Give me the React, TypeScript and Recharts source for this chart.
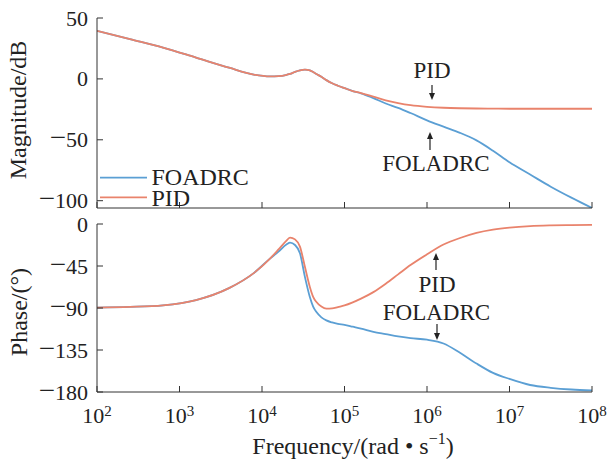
import { LineChart, Line, XAxis, YAxis, Legend } from 'recharts';

// Bode plot: FOADRC vs PID open-loop response, magnitude on top, phase below.
const freqs = [
  100, 251, 631, 1585, 3981, 7943, 12589, 15849, 19953, 21878, 25119, 28840,
  33113, 38019, 41687, 45709, 52481, 60256, 70795, 83176, 1e5, 125893, 158489,
  223872, 316228, 446684, 630957, 1e6, 1584893, 2511886, 3981072, 6309573,
  1e7, 17782794, 31622777, 56234133, 1e8,
];

const magFoadrc = [
  39.5, 32.6, 25.7, 17.5, 9.2, 3.6, 2.1, 2.3, 3.4, 4.1, 5.8, 7.0, 7.6, 7.0,
  5.6, 4.0, 1.7, -1.0, -3.6, -5.6, -7.6, -10.0, -11.8, -15.8, -20.2, -23.8,
  -28.0, -34.0, -39.2, -44.3, -50.5, -59.0, -68.5, -78.5, -88.5, -97.5, -106,
];

const magPid = [
  39.5, 32.6, 25.7, 17.5, 9.2, 3.6, 2.1, 2.3, 3.4, 4.1, 5.8, 7.0, 7.6, 7.0,
  5.6, 4.0, 1.7, -1.0, -3.6, -5.6, -7.6, -10.0, -11.6, -14.6, -17.6, -19.8,
  -21.5, -22.9, -23.7, -24.1, -24.3, -24.4, -24.5, -24.5, -24.5, -24.5, -24.5,
];

const phaseFoadrc = [
  -89.5, -88.8, -87.1, -81.5, -68.7, -52.6, -36.8, -29.5, -21.8, -20.0, -22.5,
  -31.3, -56.6, -78.2, -88.5, -94.4, -100, -103.3, -105.5, -107, -108, -110,
  -112, -115.5, -118, -120.5, -122.3, -124, -128, -138, -149.5, -159.5, -166,
  -172.5, -175.5, -177.3, -178.2,
];

const phasePid = [
  -89.5, -88.8, -87.1, -81.5, -68.7, -52.6, -36.8, -27.3, -17.5, -14.5, -16.5,
  -24.2, -45.8, -67.4, -78, -83.6, -88.5, -90.7, -90.5, -89, -87.3, -84, -80,
  -73, -64, -54, -44, -32.5, -22, -15, -9.5, -6, -3.8, -2.2, -1.5, -1.2, -1.0,
];

const seriesNames = ['FOADRC', 'PID'];
const freqTicks = [1e2, 1e3, 1e4, 1e5, 1e6, 1e7, 1e8];
const magTicks = [50, 0, -50, -100];
const phaseTicks = [0, -45, -90, -135, -180];

const magData = freqs.map((f, i) => ({ f, foadrc: magFoadrc[i], pid: magPid[i] }));
const phaseData = freqs.map((f, i) => ({ f, foadrc: phaseFoadrc[i], pid: phasePid[i] }));

const BLUE = '#5b9fd4';
const ORANGE = '#e9836c';
const AXIS = '#333';
const INK = '#222';
const FONT = '"Liberation Serif", "Times New Roman", serif';

// inward tick marks, labels drawn by hand so they sit where MATLAB puts them
function FreqTick({ x, y, payload, showLabel }: any) {
  const exp = Math.round(Math.log10(payload.value));
  return (
    <g>
      <line x1={x} x2={x} y1={y} y2={y - 6} stroke={AXIS} strokeWidth={1} />
      {showLabel && (
        <text x={x} y={y + 31} textAnchor="middle" fontSize={22} fill={INK} fontFamily={FONT}>
          <tspan>10</tspan>
          <tspan dy={-7} fontSize={15}>
            {exp}
          </tspan>
        </text>
      )}
    </g>
  );
}

// MATLAB's minus sign is long, so it gets a larger glyph than the digits
function ValueTick({ x, y, payload }: any) {
  const v = payload.value as number;
  return (
    <g>
      <line x1={x} x2={x + 6} y1={y} y2={y} stroke={AXIS} strokeWidth={1} />
      <text x={x - 9} y={y + 7.5} textAnchor="end" fontSize={22} fill={INK} fontFamily={FONT}>
        {v < 0 && <tspan fontSize={29}>{'\u2212'}</tspan>}
        <tspan>{Math.abs(v)}</tspan>
      </text>
    </g>
  );
}

function LegendBox() {
  return (
    <svg width={200} height={50} style={{ display: 'block', overflow: 'visible' }}>
      <line x1={2} x2={49} y1={11.7} y2={11.7} stroke={BLUE} strokeWidth={1.8} />
      <line x1={2} x2={49} y1={31.3} y2={31.3} stroke={ORANGE} strokeWidth={1.8} />
      <text x={53.5} y={18.5} fontSize={24} fill={INK} fontFamily={FONT}>
        {seriesNames[0]}
      </text>
      <text x={53.5} y={39.5} fontSize={24} fill={INK} fontFamily={FONT}>
        {seriesNames[1]}
      </text>
    </svg>
  );
}

function Arrow({ x, from, to }: { x: number; from: number; to: number }) {
  const dir = to > from ? 1 : -1;
  return (
    <g>
      <line x1={x} x2={x} y1={from} y2={to - dir * 5} stroke={INK} strokeWidth={1.2} />
      <polygon
        points={`${x - 3},${to - dir * 7} ${x + 3},${to - dir * 7} ${x},${to}`}
        fill={INK}
      />
    </g>
  );
}

export default function App() {
  const lineProps = {
    type: 'monotone' as const,
    dot: false,
    strokeWidth: 1.8,
    isAnimationActive: false,
  };
  const xAxisProps = {
    dataKey: 'f',
    type: 'number' as const,
    scale: 'log' as const,
    domain: [100, 1e8],
    ticks: freqTicks,
    interval: 0,
    allowDataOverflow: true,
    tickLine: false,
    tickSize: 0,
    tickMargin: 0,
    axisLine: { stroke: AXIS, strokeWidth: 1 },
  };
  const yAxisProps = {
    type: 'number' as const,
    width: 97,
    interval: 0,
    allowDataOverflow: true,
    tickLine: false,
    tickSize: 0,
    tickMargin: 0,
    axisLine: { stroke: AXIS, strokeWidth: 1 },
    tick: <ValueTick />,
  };

  return (
    <div
      style={{
        position: 'absolute',
        left: 0,
        top: 0,
        width: 609,
        height: 459,
        background: '#fff',
        fontFamily: FONT,
      }}
    >
      <div style={{ position: 'absolute', left: 0, top: 0 }}>
        <LineChart
          width={609}
          height={215}
          data={magData}
          margin={{ top: 18, right: 17, bottom: 0, left: 0 }}
        >
          <XAxis {...xAxisProps} height={7} tick={<FreqTick showLabel={false} />} />
          <YAxis {...yAxisProps} domain={[-106, 50]} ticks={magTicks} />
          <Legend
            layout="vertical"
            align="center"
            verticalAlign="middle"
            wrapperStyle={{ position: 'absolute', left: 98, top: 166, width: 200, height: 50 }}
            content={() => <LegendBox />}
          />
          <Line {...lineProps} dataKey="foadrc" name={seriesNames[0]} stroke={BLUE} />
          <Line {...lineProps} dataKey="pid" name={seriesNames[1]} stroke={ORANGE} />
        </LineChart>
      </div>

      <div style={{ position: 'absolute', left: 0, top: 200 }}>
        <LineChart
          width={609}
          height={259}
          data={phaseData}
          margin={{ top: 24, right: 17, bottom: 0, left: 0 }}
        >
          <XAxis {...xAxisProps} height={67} tick={<FreqTick showLabel />} />
          <YAxis {...yAxisProps} domain={[-180, 0]} ticks={phaseTicks} />
          <Line {...lineProps} dataKey="foadrc" name={seriesNames[0]} stroke={BLUE} />
          <Line {...lineProps} dataKey="pid" name={seriesNames[1]} stroke={ORANGE} />
        </LineChart>
      </div>

      {/* axis titles and the curve call-outs */}
      <svg
        width={609}
        height={459}
        style={{ position: 'absolute', left: 0, top: 0, pointerEvents: 'none' }}
        fontFamily={FONT}
        fill={INK}
      >
        <text x={26} y={110} fontSize={24} textAnchor="middle" transform="rotate(-90 26 110)">
          Magnitude/dB
        </text>
        <text x={27} y={312} fontSize={24} textAnchor="middle" transform="rotate(-90 27 312)">
          Phase/(°)
        </text>
        <text x={353} y={454} fontSize={24} textAnchor="middle">
          <tspan>Frequency/(rad</tspan>
          <tspan> • </tspan>
          <tspan>s</tspan>
          <tspan dy={-10} fontSize={16}>
            −1
          </tspan>
          <tspan dy={10}>)</tspan>
        </text>

        <text x={432} y={78} fontSize={23} textAnchor="middle">
          PID
        </text>
        <Arrow x={432} from={85} to={100} />
        <text x={436} y={171} fontSize={23} textAnchor="middle">
          FOLADRC
        </text>
        <Arrow x={430} from={150} to={132} />

        <Arrow x={436} from={270} to={253} />
        <text x={437} y={292} fontSize={23} textAnchor="middle">
          PID
        </text>
        <text x={436.5} y={320} fontSize={23} textAnchor="middle">
          FOLADRC
        </text>
        <Arrow x={437} from={324} to={340} />
      </svg>
    </div>
  );
}
